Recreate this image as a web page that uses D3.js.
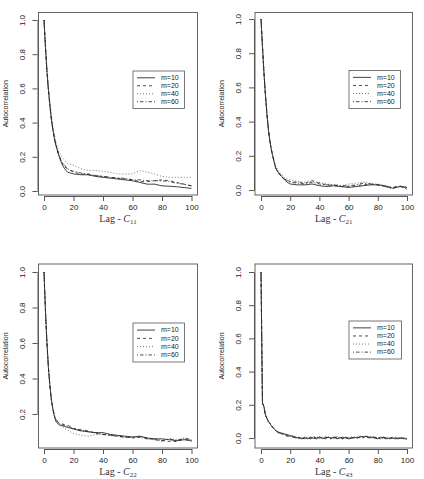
<!DOCTYPE html>
<html>
<head>
<meta charset="utf-8">
<script src="https://cdn.jsdelivr.net/npm/d3@7"></script>
<style>
  body { margin: 0; background: #fff; }
  text { font-family: "Liberation Sans", Helvetica, Arial, sans-serif; fill: #222; }
  .xlab { font-family: "Liberation Serif", "DejaVu Serif", serif; }
</style>
</head>
<body>
<svg id="chart" width="424" height="479"></svg>
<script>
// lags shared by panels C11, C21, C22
const lagsA = [0,1,2,3,4,5,6,7,8,10,12,14,16,18,20,25,30,35,40,45,50,55,60,65,70,75,80,85,90,95,100];
// finer lags for C43
const lagsB = [0,1,2,3,4,5,6,7,8,9,10,12,14,16,18,20,22,24,26,28,30,32,34,36,38,40,42,44,46,48,50,
  52,54,56,58,60,62,64,66,68,70,72,74,76,78,80,82,84,86,88,90,92,94,96,98,100];

const seriesNames = ["m=10", "m=20", "m=40", "m=60"];
const xTicks = [0, 20, 40, 60, 80, 100];

const c11_m10 = [1.0,0.84,0.70,0.59,0.50,0.42,0.36,0.31,0.27,0.21,0.16,0.13,0.11,0.105,0.10,0.095,0.095,0.085,0.08,0.075,0.07,0.065,0.06,0.05,0.04,0.04,0.03,0.028,0.025,0.02,0.015];
const c11_m20 = [1.0,0.84,0.70,0.59,0.50,0.42,0.36,0.31,0.27,0.21,0.17,0.14,0.13,0.12,0.11,0.10,0.095,0.09,0.085,0.08,0.075,0.07,0.065,0.055,0.055,0.06,0.065,0.06,0.05,0.04,0.03];
const c11_m40 = [1.0,0.85,0.72,0.61,0.52,0.44,0.38,0.33,0.29,0.23,0.20,0.18,0.16,0.155,0.15,0.13,0.12,0.12,0.115,0.11,0.10,0.10,0.10,0.12,0.11,0.10,0.085,0.08,0.08,0.08,0.08];
const c11_m60 = [1.0,0.84,0.70,0.59,0.50,0.42,0.36,0.31,0.27,0.21,0.17,0.15,0.13,0.12,0.115,0.105,0.10,0.09,0.085,0.08,0.075,0.075,0.065,0.065,0.06,0.06,0.06,0.055,0.045,0.04,0.03];

const c21_m10 = [1.0,0.84,0.69,0.56,0.45,0.36,0.29,0.24,0.20,0.13,0.10,0.08,0.06,0.045,0.035,0.03,0.03,0.035,0.025,0.02,0.025,0.02,0.015,0.02,0.025,0.03,0.03,0.025,0.01,0.02,0.015];
const c21_m20 = [1.0,0.84,0.69,0.56,0.45,0.36,0.29,0.24,0.20,0.13,0.10,0.08,0.065,0.055,0.05,0.045,0.04,0.055,0.04,0.03,0.025,0.02,0.02,0.025,0.03,0.035,0.03,0.02,0.015,0.025,0.005];
const c21_m40 = [1.0,0.84,0.69,0.56,0.45,0.36,0.29,0.24,0.20,0.14,0.11,0.09,0.075,0.065,0.06,0.05,0.045,0.05,0.045,0.035,0.03,0.025,0.035,0.04,0.045,0.04,0.035,0.025,0.015,0.02,0.02];
const c21_m60 = [1.0,0.84,0.69,0.56,0.45,0.36,0.29,0.24,0.20,0.13,0.10,0.08,0.065,0.055,0.045,0.04,0.035,0.045,0.035,0.03,0.03,0.025,0.025,0.03,0.04,0.035,0.03,0.02,0.01,0.02,0.015];

const c22_m10 = [1.0,0.78,0.60,0.46,0.36,0.28,0.23,0.19,0.16,0.14,0.135,0.13,0.125,0.12,0.115,0.105,0.10,0.095,0.095,0.085,0.08,0.075,0.07,0.075,0.065,0.06,0.06,0.055,0.05,0.055,0.05];
const c22_m20 = [1.0,0.78,0.60,0.46,0.36,0.28,0.23,0.19,0.17,0.15,0.145,0.14,0.135,0.13,0.12,0.11,0.105,0.09,0.085,0.08,0.075,0.07,0.065,0.07,0.065,0.055,0.05,0.045,0.045,0.06,0.045];
const c22_m40 = [1.0,0.78,0.60,0.46,0.36,0.28,0.23,0.19,0.16,0.14,0.13,0.12,0.11,0.10,0.09,0.08,0.075,0.085,0.085,0.08,0.075,0.065,0.07,0.075,0.06,0.055,0.045,0.06,0.055,0.06,0.055];
const c22_m60 = [1.0,0.78,0.60,0.46,0.36,0.28,0.23,0.19,0.17,0.15,0.14,0.135,0.13,0.125,0.115,0.11,0.10,0.095,0.085,0.08,0.075,0.07,0.07,0.07,0.06,0.06,0.05,0.06,0.05,0.065,0.055];

const c43_m10 = [1.0,0.21,0.19,0.14,0.12,0.10,0.09,0.075,0.065,0.055,0.045,0.035,0.03,0.025,0.02,0.015,0.01,0.005,0.0,-0.005,0.0,-0.005,0.005,0.0,-0.005,0.005,0.0,-0.005,0.005,0.0,0.005,-0.005,0.0,0.005,0.0,-0.005,0.0,0.005,0.0,0.01,0.005,0.01,0.0,0.005,0.0,-0.005,0.005,0.0,-0.005,0.0,0.0,-0.005,0.0,0.0,-0.005,-0.005];
const c43_m20 = [1.0,0.21,0.19,0.14,0.12,0.10,0.09,0.075,0.065,0.055,0.045,0.03,0.025,0.02,0.01,0.01,0.005,0.0,0.005,-0.005,0.005,0.0,-0.005,0.005,0.0,0.01,-0.005,0.005,0.0,-0.005,0.01,0.0,0.005,-0.005,0.005,0.0,0.005,-0.005,0.005,0.0,0.01,0.0,0.005,0.01,0.0,0.005,-0.005,0.005,0.0,-0.005,0.005,0.0,-0.005,0.0,0.0,-0.005];
const c43_m40 = [1.0,0.21,0.19,0.14,0.12,0.10,0.09,0.075,0.065,0.055,0.045,0.035,0.025,0.02,0.015,0.01,0.015,0.005,0.0,0.005,0.0,0.005,-0.005,0.01,0.005,0.0,0.005,0.01,0.005,0.0,0.0,0.01,0.005,0.0,0.005,0.0,0.005,0.0,0.005,0.01,0.0,0.015,0.005,0.01,0.005,0.0,0.005,0.0,0.005,-0.005,0.0,0.005,0.0,-0.005,0.0,0.0];
const c43_m60 = [1.0,0.21,0.19,0.14,0.12,0.10,0.09,0.075,0.065,0.055,0.045,0.03,0.03,0.02,0.015,0.01,0.005,0.0,-0.005,0.0,-0.005,0.005,0.0,-0.005,0.005,0.0,-0.005,0.0,0.005,-0.005,0.0,0.005,0.0,-0.005,0.005,0.0,0.0,0.005,0.0,0.005,0.0,0.01,0.005,0.0,0.005,0.0,-0.005,0.005,0.0,-0.005,0.0,0.005,-0.005,0.0,0.0,-0.005];

const yTicksFull = [0.0, 0.2, 0.4, 0.6, 0.8, 1.0];
const yTicksC22 = [0.2, 0.4, 0.6, 0.8, 1.0];

const dashes = [null, "3,3", "1,2", "1,2,3.5,2"];
const strokes = ["#111", "#222", "#555", "#222"];

const panels = [
  { sub: "11", lags: lagsA, series: [c11_m10, c11_m20, c11_m40, c11_m60], yTicks: yTicksFull,
    box: [38.5, 12.5, 197.5, 195], x0: 44, x100: 191.5, y: [0, 1], ypx: [191, 20],
    legend: [133, 71, 184.5, 108.5] },
  { sub: "21", lags: lagsA, series: [c21_m10, c21_m20, c21_m40, c21_m60], yTicks: yTicksFull,
    box: [255, 12.5, 412.5, 195], x0: 261, x100: 407, y: [0, 1], ypx: [190, 19],
    legend: [349, 70.5, 400.5, 108.5] },
  { sub: "22", lags: lagsA, series: [c22_m10, c22_m20, c22_m40, c22_m60], yTicks: yTicksC22,
    box: [38.5, 264, 197.5, 448], x0: 44, x100: 191.5, y: [0.2, 1], ypx: [414, 272],
    legend: [133, 323, 184.5, 362] },
  { sub: "43", lags: lagsB, series: [c43_m10, c43_m20, c43_m40, c43_m60], yTicks: yTicksFull,
    box: [255, 264, 412.5, 448], x0: 261, x100: 407, y: [0, 1], ypx: [438, 272],
    legend: [349, 321, 401.5, 359] }
];

const svg = d3.select("#chart");

panels.forEach(p => {
  const g = svg.append("g");
  const x = d3.scaleLinear().domain([0, 100]).range([p.x0, p.x100]);
  const y = d3.scaleLinear().domain(p.y).range(p.ypx);
  const [bx0, by0, bx1, by1] = p.box;

  // lines
  const line = d3.line().x((d, i) => x(p.lags[i])).y(d => y(d));
  p.series.forEach((s, k) => {
    g.append("path")
      .datum(s)
      .attr("d", line)
      .attr("fill", "none")
      .attr("stroke", strokes[k])
      .attr("stroke-width", 0.8)
      .attr("stroke-dasharray", dashes[k]);
  });

  // frame
  g.append("rect")
    .attr("x", bx0).attr("y", by0)
    .attr("width", bx1 - bx0).attr("height", by1 - by0)
    .attr("fill", "none").attr("stroke", "#555").attr("stroke-width", 0.9);

  // x axis (R style: outside the box)
  const xa = g.append("g").attr("transform", `translate(0,${by1 + 1})`)
    .call(d3.axisBottom(x).tickValues(xTicks).tickSize(5).tickSizeOuter(0).tickPadding(3).tickFormat(d3.format("d")));
  xa.select(".domain").attr("stroke", "#555");
  xa.selectAll(".tick line").attr("stroke", "#555");
  xa.selectAll("text").style("font-size", "8px").style("fill", "#222");

  // y axis
  const ya = g.append("g").attr("transform", `translate(${bx0 - 1},0)`)
    .call(d3.axisLeft(y).tickValues(p.yTicks).tickSize(5).tickSizeOuter(0).tickFormat(d3.format(".1f")));
  ya.select(".domain").attr("stroke", "#555");
  ya.selectAll(".tick line").attr("stroke", "#555");
  ya.selectAll("text")
    .style("font-size", "8px").style("fill", "#222")
    .attr("x", null).attr("dy", null)
    .attr("text-anchor", "middle")
    .attr("transform", "translate(-13,0) rotate(-90)");

  // y label
  g.append("text")
    .attr("transform", `translate(${bx0 - 31},${(by0 + by1) / 2}) rotate(-90)`)
    .attr("text-anchor", "middle")
    .style("font-size", "7px").style("fill", "#222")
    .text("Autocorrelation");

  // x label
  const xl = g.append("text")
    .attr("class", "xlab")
    .attr("x", (bx0 + bx1) / 2)
    .attr("y", by1 + 27)
    .attr("text-anchor", "middle")
    .style("font-size", "10px").style("fill", "#333");
  xl.append("tspan").text("Lag - ");
  xl.append("tspan").style("font-style", "italic").text("C");
  xl.append("tspan").attr("dy", 1.5).style("font-size", "7px").text(p.sub);

  // legend
  const [lx0, ly0, lx1, ly1] = p.legend;
  const lg = g.append("g");
  lg.append("rect")
    .attr("x", lx0).attr("y", ly0)
    .attr("width", lx1 - lx0).attr("height", ly1 - ly0)
    .attr("fill", "#fff").attr("stroke", "#555").attr("stroke-width", 0.8);
  const rowH = (ly1 - ly0) / 4.7;
  seriesNames.forEach((name, k) => {
    const cy = ly0 + rowH * (k + 0.85);
    lg.append("line")
      .attr("x1", lx0 + 4).attr("x2", lx0 + 22)
      .attr("y1", cy).attr("y2", cy)
      .attr("stroke", strokes[k]).attr("stroke-width", 0.8)
      .attr("stroke-dasharray", dashes[k]);
    lg.append("text")
      .attr("x", lx0 + 28).attr("y", cy)
      .attr("dy", "0.33em")
      .style("font-size", "7px").style("fill", "#222")
      .text(name);
  });
});
</script>
</body>
</html>
